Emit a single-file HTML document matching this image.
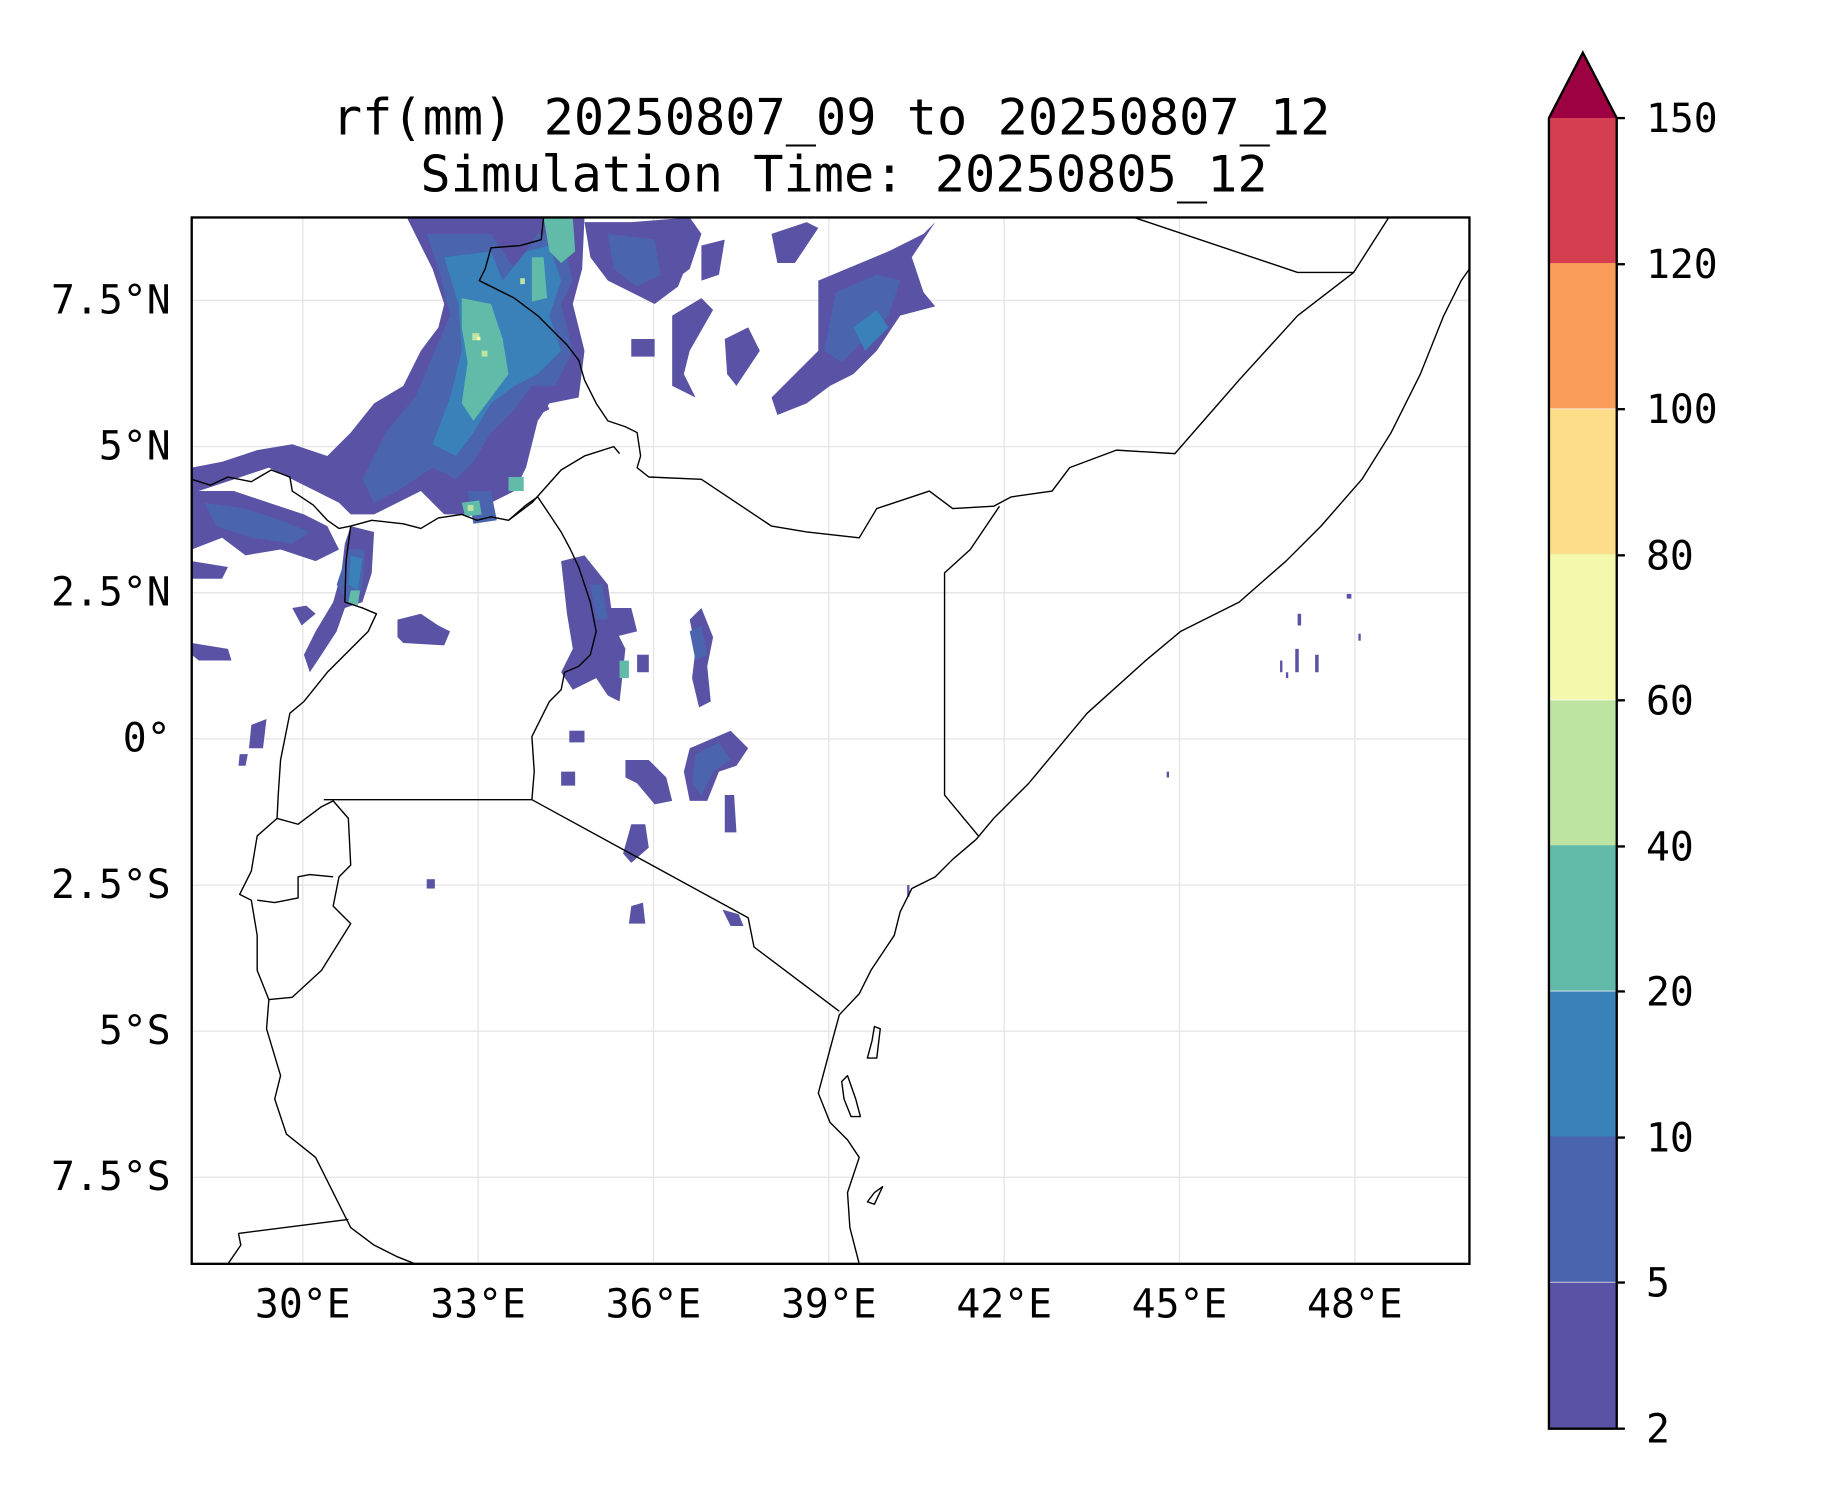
<!DOCTYPE html>
<html><head><meta charset="utf-8"><style>html,body{margin:0;padding:0;background:#fff}svg{display:block}</style></head>
<body>
<svg width="1833" height="1500" viewBox="0 0 1568 1283" preserveAspectRatio="none" xmlns="http://www.w3.org/2000/svg" font-family="'DejaVu Sans Mono','Liberation Mono',monospace">
<rect width="1568" height="1283" fill="#fff"/>
<text x="711" y="115" font-size="43" text-anchor="middle">rf(mm) 20250807_09 to 20250807_12</text>
<text x="722" y="164" font-size="43" text-anchor="middle">Simulation Time: 20250805_12</text>
<defs><clipPath id="c"><rect x="164" y="186" width="1093" height="895"/></clipPath></defs>
<g stroke="#e6e6e6" stroke-width="1.2">
<line x1="259" y1="186" x2="259" y2="1081"/><line x1="409" y1="186" x2="409" y2="1081"/><line x1="559" y1="186" x2="559" y2="1081"/><line x1="709" y1="186" x2="709" y2="1081"/><line x1="859" y1="186" x2="859" y2="1081"/><line x1="1009" y1="186" x2="1009" y2="1081"/><line x1="1159" y1="186" x2="1159" y2="1081"/>
<line x1="164" y1="257" x2="1257" y2="257"/><line x1="164" y1="382" x2="1257" y2="382"/><line x1="164" y1="507" x2="1257" y2="507"/><line x1="164" y1="632" x2="1257" y2="632"/><line x1="164" y1="757" x2="1257" y2="757"/><line x1="164" y1="882" x2="1257" y2="882"/><line x1="164" y1="1007" x2="1257" y2="1007"/>
</g>
<g clip-path="url(#c)">
<g fill="#5a53a5">
<path d="M348,186 L445,186 L470,186 L500,186 L498,230 L490,260 L500,300 L495,340 L470,345 L460,360 L450,400 L440,420 L420,430 L400,440 L380,440 L360,420 L340,430 L320,440 L300,440 L290,430 L270,420 L250,410 L230,400 L200,410 L170,420 L164,420 L164,400 L190,395 L220,385 L250,380 L280,390 L300,370 L320,345 L345,330 L360,300 L375,280 L380,260 L370,230 Z"/>
<path d="M164,420 L200,420 L230,430 L260,440 L280,450 L290,470 L270,480 L240,470 L210,475 L190,460 L164,470 Z"/>
<path d="M164,480 L195,485 L190,495 L164,495 Z"/>
<path d="M164,550 L195,555 L198,565 L170,565 L164,560 Z"/>
<path d="M300,450 L320,455 L318,490 L310,515 L295,520 L288,540 L275,560 L265,575 L260,560 L270,540 L285,515 L292,490 L295,465 Z"/>
<path d="M340,530 L360,525 L375,535 L385,540 L380,552 L345,550 L340,545 Z"/>
<path d="M500,190 L540,190 L570,200 L590,220 L580,245 L560,260 L540,250 L520,240 L505,220 Z"/>
<path d="M540,190 L590,186 L600,200 L590,230 L570,245 L560,225 Z"/>
<path d="M700,240 L760,215 L790,200 L800,190 L780,220 L790,250 L800,262 L770,270 L750,300 L730,320 L710,330 L690,345 L665,355 L660,340 L680,320 L700,300 L700,270 Z"/>
<path d="M660,200 L690,190 L700,195 L680,225 L665,225 Z"/>
<path d="M600,210 L620,205 L615,235 L600,240 Z"/>
<path d="M480,480 L500,475 L520,500 L525,535 L535,555 L530,600 L520,595 L510,580 L490,590 L480,575 L490,555 L485,525 Z"/>
<path d="M590,530 L600,520 L610,545 L605,570 L608,600 L598,605 L592,580 L595,555 Z"/>
<path d="M590,640 L625,625 L640,640 L630,655 L615,660 L605,685 L590,685 L585,660 Z"/>
<path d="M535,650 L555,650 L570,665 L575,685 L560,688 L545,670 L535,665 Z"/>
<path d="M540,705 L552,705 L555,725 L540,738 L533,730 Z"/>
<path d="M540,775 L550,772 L552,790 L538,790 Z"/>
<path d="M618,778 L632,782 L636,792 L625,792 Z"/>
<path d="M250,520 L262,518 L270,525 L258,535 Z"/>
<path d="M215,620 L228,615 L225,640 L213,640 Z"/>
<path d="M205,645 L212,645 L210,655 L204,655 Z"/>
<path d="M620,680 L628,680 L630,712 L620,712 Z"/>
<path d="M480,660 L492,660 L492,672 L480,672 Z"/>
<path d="M487,625 L500,625 L500,635 L487,635 Z"/>
<path d="M365,752 L372,752 L372,760 L365,760 Z"/>
<path d="M575,270 L600,255 L610,265 L590,300 L585,320 L595,340 L575,330 Z"/>
<path d="M620,290 L640,280 L650,300 L630,330 L622,320 Z"/>
<path d="M430,330 L460,330 L470,350 L450,360 L430,350 Z"/>
<path d="M540,290 L560,290 L560,305 L540,305 Z"/>
<path d="M520,520 L540,520 L545,540 L525,545 Z"/>
<path d="M545,560 L555,560 L555,575 L545,575 Z"/>
</g>
<g fill="#4a64ad">
<path d="M365,200 L420,200 L440,230 L460,200 L480,200 L490,240 L480,260 L490,300 L475,330 L455,330 L440,350 L420,370 L405,395 L390,410 L370,400 L340,420 L320,430 L310,410 L330,370 L355,340 L372,300 L385,270 L375,230 Z"/>
<path d="M175,430 L210,435 L240,445 L265,455 L250,465 L215,460 L185,450 Z"/>
<path d="M298,470 L312,470 L310,505 L298,515 L288,500 Z"/>
<path d="M715,250 L750,235 L770,240 L760,270 L740,290 L720,310 L705,300 Z"/>
<path d="M505,500 L515,500 L520,530 L510,530 Z"/>
<path d="M595,645 L615,635 L625,650 L610,660 L600,680 L592,670 Z"/>
<path d="M590,540 L600,535 L605,560 L595,565 Z"/>
<path d="M520,200 L560,205 L565,235 L545,245 L525,230 Z"/>
<path d="M400,420 L420,420 L425,445 L405,448 Z"/>
</g>
<g fill="#3a80b9">
<path d="M380,220 L420,215 L430,240 L450,215 L470,210 L480,240 L470,270 L480,300 L460,320 L440,330 L420,345 L405,370 L390,390 L370,380 L385,340 L395,300 L392,260 Z"/>
<path d="M300,475 L310,478 L306,505 L298,500 Z"/>
<path d="M730,280 L750,265 L760,280 L740,300 Z"/>
</g>
<g fill="#62bba8">
<path d="M395,255 L420,260 L430,290 L435,320 L420,340 L405,360 L395,345 L400,310 L395,280 Z"/>
<path d="M465,186 L490,186 L492,215 L480,225 L470,215 Z"/>
<path d="M455,220 L465,220 L468,255 L455,258 Z"/>
<path d="M300,505 L308,505 L306,518 L298,515 Z"/>
<path d="M395,430 L410,428 L412,440 L398,442 Z"/>
<path d="M435,408 L448,408 L448,420 L435,420 Z"/>
<path d="M530,565 L538,565 L538,580 L530,580 Z"/>
</g>
<g fill="#bde4a0"><rect x="404" y="285" width="6" height="6"/><rect x="412" y="300" width="5" height="5"/><rect x="445" y="238" width="4" height="5"/><rect x="400" y="432" width="5" height="5"/></g>
<g fill="#f3f8ad"><rect x="408" y="288" width="3" height="3"/></g>
<g fill="#5a53a5"><rect x="1110" y="525" width="3" height="10"/><rect x="1108" y="555" width="3" height="20"/><rect x="1125" y="560" width="3" height="15"/><rect x="1095" y="565" width="2" height="10"/><rect x="1152" y="508" width="4" height="4"/><rect x="1162" y="542" width="2" height="6"/><rect x="998" y="660" width="2" height="5"/><rect x="1100" y="575" width="2" height="5"/><rect x="776" y="757" width="2" height="10"/></g>
</g>
<g fill="none" stroke="#000" stroke-width="1.2" stroke-linejoin="round" clip-path="url(#c)">
<path d="M164,410 L180,415 L195,408 L215,412 L232,402 L248,408 L250,420 L268,432 L280,445 L290,452 L300,450 L318,445 L345,448 L360,452 L375,443 L395,440 L408,445 L420,442 L435,445 L450,432 L460,425 L470,440 L480,455 L488,470 L495,485 L500,500 L505,515 L510,540 L505,560 L495,570 L483,575 L480,590 L470,600 L460,620 L455,630 L457,660 L455,684"/>
<path d="M300,450 L296,480 L295,515 L310,520 L322,525 L315,540 L300,555 L280,575 L268,590 L260,600 L248,610 L245,625 L240,650 L238,680 L237,700"/>
<path d="M465,186 L463,205 L445,210 L420,212 L415,230 L410,240 L420,245 L440,255 L460,270 L475,285 L485,295 L495,308 L500,325 L510,345 L520,360 L535,365 L545,370 L548,390 L545,400 L555,408 L600,410 L660,450 L690,455 L735,460 L750,435 L795,420 L815,435 L850,433 L865,425 L900,420 L915,400 L955,385 L1005,388 L1060,325 L1110,270 L1158,233 L1188,186"/>
<path d="M435,445 L455,430 L480,402 L500,390 L525,382 L530,388"/>
<path d="M855,433 L830,470 L808,490 L808,680 L837,715"/>
<path d="M970,186 L1110,233 L1158,233"/>
<path d="M1257,230 L1250,240 L1235,270 L1215,320 L1190,370 L1165,410 L1130,450 L1100,480 L1060,515 L1010,540 L980,565 L930,610 L880,670 L860,690 L850,700 L835,718 L815,735 L800,750 L780,760 L770,780 L765,800 L745,830 L735,850 L718,868 L712,890 L700,935 L710,960 L725,975 L735,990 L725,1020 L727,1050 L735,1081"/>
<path d="M455,684 L640,785 L645,810 L718,865"/>
<path d="M277,684 L455,684"/>
<path d="M237,700 L220,715 L215,745 L205,765 L215,770 L220,800 L220,830 L230,855 L228,880 L240,920 L235,940 L245,970 L270,990 L285,1020 L300,1050 L320,1065 L340,1075 L355,1081"/>
<path d="M237,700 L255,705 L275,690 L285,685 L298,700 L300,740 L290,750 L285,775 L300,790 L275,830 L250,853 L230,855"/>
<path d="M220,770 L235,772 L255,768 L255,750 L265,748 L285,750"/>
<path d="M204,1055 L298,1043"/>
<path d="M204,1055 L206,1065 L195,1081"/>
<path d="M748,878 L753,880 L750,905 L742,905 L746,890 Z"/>
<path d="M720,925 L725,920 L732,940 L736,955 L728,955 L722,940 Z"/>
<path d="M748,1020 L755,1015 L748,1030 L742,1028 Z"/>
</g>
<rect x="164" y="186" width="1093" height="895" fill="none" stroke="#000" stroke-width="2"/>
<g font-size="34" text-anchor="middle">
<text x="259" y="1127">30°E</text><text x="409" y="1127">33°E</text><text x="559" y="1127">36°E</text><text x="709" y="1127">39°E</text><text x="859" y="1127">42°E</text><text x="1009" y="1127">45°E</text><text x="1159" y="1127">48°E</text>
</g>
<g font-size="34" text-anchor="end">
<text x="146" y="268">7.5°N</text><text x="146" y="393">5°N</text><text x="146" y="518">2.5°N</text><text x="146" y="643">0°</text><text x="146" y="768">2.5°S</text><text x="146" y="893">5°S</text><text x="146" y="1018">7.5°S</text>
</g>
<g>
<rect x="1325" y="101" width="58" height="124.4" fill="#d53e4f"/>
<rect x="1325" y="225" width="58" height="124.4" fill="#f99d59"/>
<rect x="1325" y="350" width="58" height="124.4" fill="#fddd8a"/>
<rect x="1325" y="474" width="58" height="124.4" fill="#f3f8ad"/>
<rect x="1325" y="599" width="58" height="124.4" fill="#bde4a0"/>
<rect x="1325" y="723" width="58" height="124.4" fill="#62bba8"/>
<rect x="1325" y="848" width="58" height="124.4" fill="#3a80b9"/>
<rect x="1325" y="972" width="58" height="124.4" fill="#4a64ad"/>
<rect x="1325" y="1097" width="58" height="125" fill="#5a53a5"/>
<path d="M1325,101 L1354,45 L1383,101 Z" fill="#9e0142"/>
<path d="M1325,101 L1354,45 L1383,101 L1383,1222 L1325,1222 Z" fill="none" stroke="#000" stroke-width="2"/>
<g stroke="#000" stroke-width="2">
<line x1="1383" y1="101" x2="1390" y2="101"/><line x1="1383" y1="226" x2="1390" y2="226"/><line x1="1383" y1="350" x2="1390" y2="350"/><line x1="1383" y1="475" x2="1390" y2="475"/><line x1="1383" y1="599" x2="1390" y2="599"/><line x1="1383" y1="724" x2="1390" y2="724"/><line x1="1383" y1="848" x2="1390" y2="848"/><line x1="1383" y1="973" x2="1390" y2="973"/><line x1="1383" y1="1097" x2="1390" y2="1097"/><line x1="1383" y1="1222" x2="1390" y2="1222"/>
</g>
<g font-size="34">
<text x="1408" y="113">150</text><text x="1408" y="238">120</text><text x="1408" y="362">100</text><text x="1408" y="487">80</text><text x="1408" y="611">60</text><text x="1408" y="736">40</text><text x="1408" y="860">20</text><text x="1408" y="985">10</text><text x="1408" y="1109">5</text><text x="1408" y="1234">2</text>
</g>
</g>
</svg>
</body></html>
